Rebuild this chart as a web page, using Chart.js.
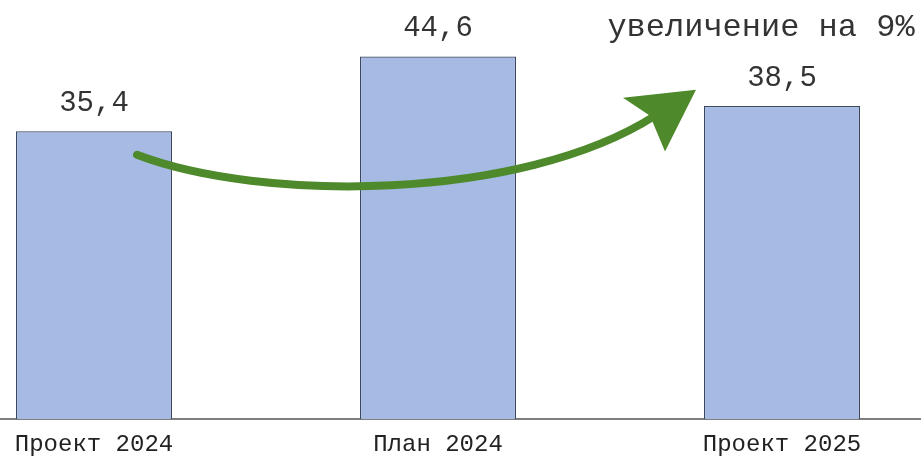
<!DOCTYPE html>
<html><head><meta charset="utf-8">
<script src="https://cdn.jsdelivr.net/npm/chart.js@4/dist/chart.umd.min.js"></script>
<style>
html,body{margin:0;padding:0;background:#fff;overflow:hidden;width:921px;height:457px;}
#wrap{position:absolute;left:-78px;top:0;width:1032px;height:457px;}
</style></head>
<body>
<div id="wrap"><canvas id="c" width="1032" height="457"></canvas></div>
<script>
const categories = ["Проект 2024", "План 2024", "Проект 2025"];
const values = [35.4, 44.6, 38.5];
const valueLabels = ["35,4", "44,6", "38,5"];
const annotationText = "увеличение на 9%";

const mono = "'Liberation Mono', 'Courier New', monospace";

const labelPlugin = {
  id: 'valueLabels',
  afterDatasetsDraw(chart) {
    const ctx = chart.ctx;
    const meta = chart.getDatasetMeta(0);
    ctx.save();
    ctx.fillStyle = '#333';
    ctx.font = '29px ' + mono;
    ctx.textAlign = 'center';
    ctx.textBaseline = 'middle';
    meta.data.forEach((bar, i) => {
      ctx.fillText(valueLabels[i], bar.x, bar.y - 28);
    });
    ctx.restore();
  }
};

const arrowPlugin = {
  id: 'arrow',
  afterDatasetsDraw(chart) {
    const ctx = chart.ctx;
    const xs = chart.scales.x, ys = chart.scales.y;
    const x0 = xs.getPixelForValue(0), x1 = xs.getPixelForValue(1), x2 = xs.getPixelForValue(2);
    const y = v => ys.getPixelForValue(v);
    const p0 = [x0 + 43, y(32.5)];
    const c1 = [x0 + 166, y(26.7)];
    const c2 = [x1 + 82, y(26.7)];
    const p3 = [x2 - 127, y(37.3)];
    ctx.save();
    ctx.strokeStyle = '#4E8A2C';
    ctx.fillStyle = '#4E8A2C';
    ctx.lineWidth = 8;
    ctx.lineCap = 'round';
    ctx.beginPath();
    ctx.moveTo(p0[0], p0[1]);
    ctx.bezierCurveTo(c1[0], c1[1], c2[0], c2[1], p3[0], p3[1]);
    ctx.stroke();
    ctx.beginPath();
    ctx.moveTo(x2 - 86, y(40.5));
    ctx.lineTo(x2 - 159, y(39.5));
    ctx.lineTo(x2 - 132, y(37.3));
    ctx.lineTo(x2 - 117, y(32.9));
    ctx.closePath();
    ctx.fill();
    // annotation text
    ctx.fillStyle = '#333';
    ctx.font = '32px ' + mono;
    ctx.textAlign = 'center';
    ctx.textBaseline = 'middle';
    ctx.fillText(annotationText, x2 - 21, y(48.1));
    ctx.restore();
  }
};

new Chart(document.getElementById('c'), {
  type: 'bar',
  data: {
    labels: categories,
    datasets: [{
      data: values,
      backgroundColor: '#A6BAE3',
      borderColor: '#3A4862',
      borderWidth: 1.3,
      categoryPercentage: 1,
      barPercentage: 0.4535
    }]
  },
  options: {
    responsive: false,
    devicePixelRatio: 1,
    animation: false,
    layout: { padding: { top: 12.5, left: 0, right: 0, bottom: 0 } },
    plugins: { legend: { display: false }, tooltip: { enabled: false } },
    scales: {
      x: {
        offset: true,
        grid: { display: false, drawTicks: false },
        border: { display: true, color: '#7F7F7F', width: 2 },
        ticks: { color: '#222', font: { family: mono, size: 24 }, padding: 11 },
        afterFit(scale) { scale.height = 38; }
      },
      y: { display: false, min: 0, max: 50 }
    }
  },
  plugins: [labelPlugin, arrowPlugin]
});
</script>
</body></html>
